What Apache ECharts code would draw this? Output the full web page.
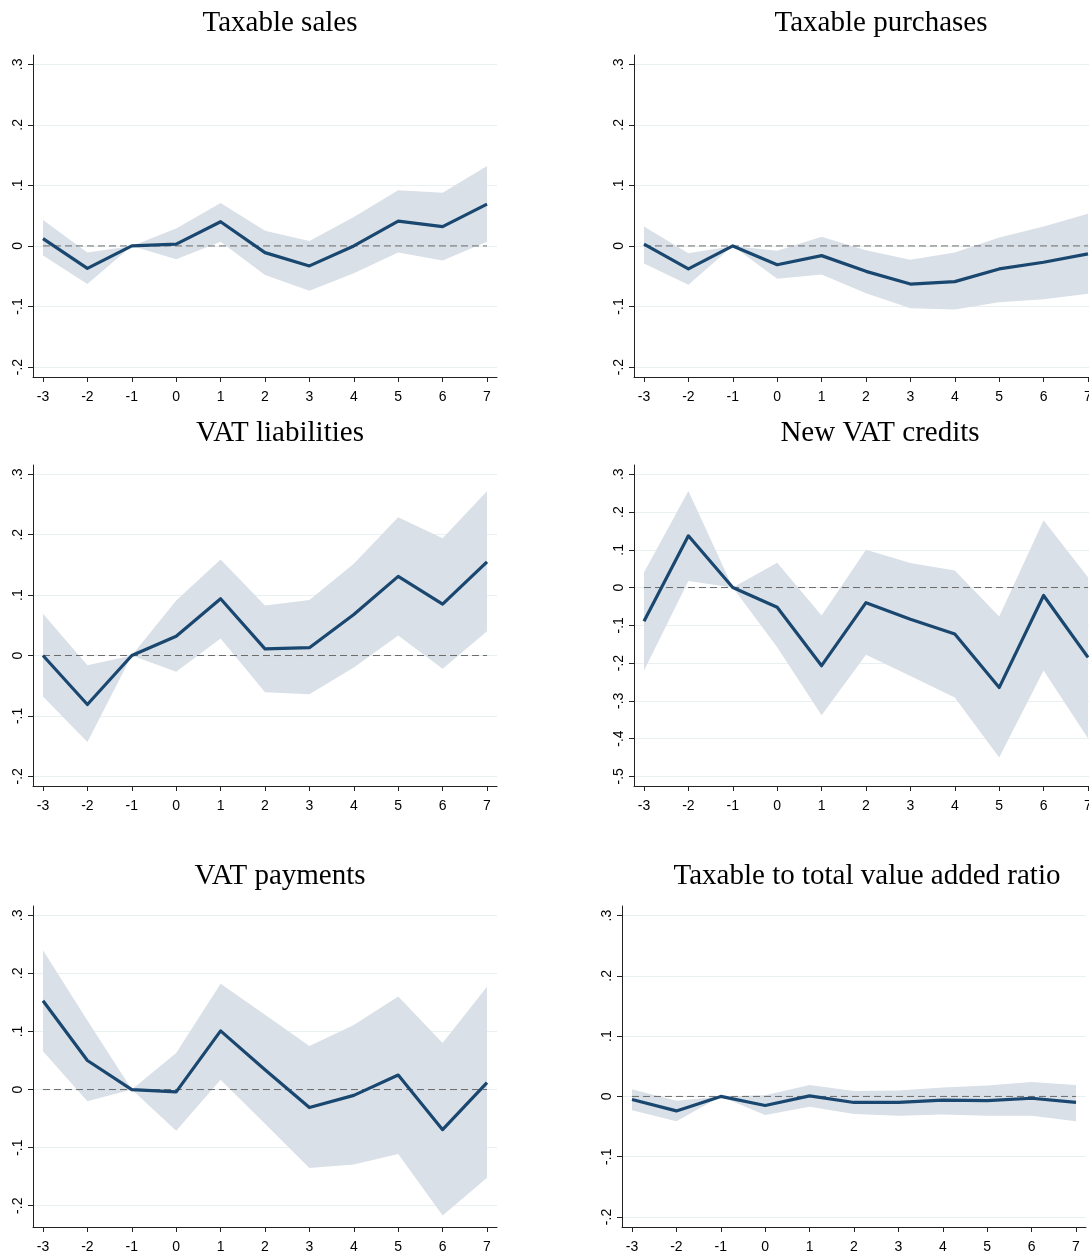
<!DOCTYPE html>
<html>
<head>
<meta charset="utf-8">
<script src="https://cdn.jsdelivr.net/npm/echarts@6/dist/echarts.min.js"></script>
<style>
html,body{margin:0;padding:0;background:#fff;}
#c{width:1089px;height:1253px;}
</style>
</head>
<body>
<div id="c"></div>
<script>
// ---------- data ----------
const periods = [-3, -2, -1, 0, 1, 2, 3, 4, 5, 6, 7];

const titles = ["Taxable sales", "Taxable purchases", "VAT liabilities", "New VAT credits", "VAT payments", "Taxable to total value added ratio"];

const salesCoef = [0.012, -0.037, 0, 0.003, 0.040, -0.011, -0.033, 0.000, 0.041, 0.032, 0.069];
const salesHi   = [0.043, -0.011, 0, 0.029, 0.071, 0.025, 0.008, 0.048, 0.092, 0.088, 0.132];
const salesLo   = [-0.016, -0.063, 0, -0.022, 0.007, -0.048, -0.074, -0.045, -0.011, -0.024, 0.007];

const purchCoef = [0.003, -0.038, 0, -0.031, -0.016, -0.042, -0.063, -0.059, -0.038, -0.027, -0.013];
const purchHi   = [0.032, -0.012, 0, -0.008, 0.015, -0.007, -0.023, -0.011, 0.014, 0.032, 0.053];
const purchLo   = [-0.029, -0.064, 0, -0.054, -0.047, -0.078, -0.103, -0.105, -0.093, -0.088, -0.079];

const liabCoef = [0, -0.081, 0, 0.032, 0.094, 0.011, 0.013, 0.068, 0.131, 0.085, 0.155];
const liabHi   = [0.069, -0.016, 0, 0.091, 0.159, 0.083, 0.092, 0.152, 0.229, 0.194, 0.272];
const liabLo   = [-0.068, -0.143, 0, -0.027, 0.028, -0.061, -0.064, -0.020, 0.033, -0.022, 0.040];

const credCoef = [-0.089, 0.137, 0, -0.052, -0.207, -0.040, -0.084, -0.123, -0.265, -0.021, -0.185];
const credHi   = [0.040, 0.256, 0, 0.066, -0.074, 0.100, 0.065, 0.045, -0.077, 0.178, 0.027];
const credLo   = [-0.220, 0.017, 0, -0.158, -0.338, -0.178, -0.234, -0.291, -0.450, -0.220, -0.399];

const payCoef = [0.153, 0.050, 0, -0.004, 0.101, 0.034, -0.031, -0.010, 0.025, -0.069, 0.012];
const payHi   = [0.240, 0.119, 0, 0.063, 0.182, 0.129, 0.075, 0.111, 0.160, 0.080, 0.177];
const payLo   = [0.066, -0.020, 0, -0.071, 0.017, -0.059, -0.135, -0.129, -0.111, -0.217, -0.152];

const ratioCoef = [-0.005, -0.024, 0, -0.015, 0.001, -0.010, -0.010, -0.006, -0.007, -0.003, -0.010];
const ratioHi   = [0.012, -0.007, 0, 0.002, 0.019, 0.009, 0.010, 0.015, 0.018, 0.024, 0.019];
const ratioLo   = [-0.023, -0.041, 0, -0.031, -0.017, -0.029, -0.032, -0.030, -0.032, -0.032, -0.041];

const yTicksStd = [-0.2, -0.1, 0, 0.1, 0.2, 0.3];
const yTicksCred = [-0.5, -0.4, -0.3, -0.2, -0.1, 0, 0.1, 0.2, 0.3];
const xTicks = [-3, -2, -1, 0, 1, 2, 3, 4, 5, 6, 7];

const panelData = [
  {coef: salesCoef, lo: salesLo, hi: salesHi, ticks: yTicksStd},
  {coef: purchCoef, lo: purchLo, hi: purchHi, ticks: yTicksStd},
  {coef: liabCoef, lo: liabLo, hi: liabHi, ticks: yTicksStd},
  {coef: credCoef, lo: credLo, hi: credHi, ticks: yTicksCred},
  {coef: payCoef, lo: payLo, hi: payHi, ticks: yTicksStd},
  {coef: ratioCoef, lo: ratioLo, hi: ratioHi, ticks: yTicksStd}
];

// ---------- layout ----------
const layout = [
  {left: 33,  top: 55,  width: 464, height: 322, xMax: 7.225, yMin: -0.2165, yMax: 0.3154, tx: 280, ty: 23},
  {left: 634, top: 55,  width: 455, height: 322, xMax: 7.023, yMin: -0.2165, yMax: 0.3154, tx: 881, ty: 23},
  {left: 33,  top: 465, width: 464, height: 321, xMax: 7.225, yMin: -0.2160, yMax: 0.3154, tx: 280, ty: 433},
  {left: 634, top: 465, width: 455, height: 321, xMax: 7.023, yMin: -0.5257, yMax: 0.3246, tx: 880, ty: 433},
  {left: 33,  top: 906, width: 464, height: 321, xMax: 7.225, yMin: -0.2366, yMax: 0.3160, tx: 280, ty: 876},
  {left: 622, top: 906, width: 464, height: 321, xMax: 7.225, yMin: -0.2166, yMax: 0.3159, tx: 867, ty: 876}
];
const xMin = -3.225;

const lineColor = '#1a476f';
const bandColor = '#dae0e8';
const gridColor = '#e8f0f1';
const axisColor = '#222';
const labelFont = 'Liberation Sans, Arial, sans-serif';

function fmtY(v) {
  if (Math.abs(v) < 1e-9) return '0';
  const s = (Math.round(v * 10) / 10).toFixed(1);
  return s.replace('0.', '.');
}

const grids = [], xAxes = [], yAxes = [], series = [], graphics = [];
layout.forEach((L, i) => {
  const D = panelData[i];
  grids.push({left: L.left, top: L.top, width: L.width, height: L.height, containLabel: false, outerBoundsMode: 'none'});
  xAxes.push({
    type: 'value', gridIndex: i, min: xMin, max: L.xMax,
    axisLine: {show: true, onZero: false, lineStyle: {color: axisColor, width: 1}},
    axisTick: {show: true, length: 5, customValues: xTicks, lineStyle: {color: axisColor}},
    axisLabel: {show: true, customValues: xTicks, color: '#000', fontSize: 14, fontFamily: labelFont, margin: 13,
      hideOverlap: false, formatter: v => String(Math.round(v))},
    splitLine: {show: false}
  });
  yAxes.push({
    type: 'value', gridIndex: i, min: L.yMin, max: L.yMax,
    axisLine: {show: true, onZero: false, lineStyle: {color: axisColor, width: 1}},
    axisTick: {show: true, length: 5, customValues: D.ticks, lineStyle: {color: axisColor}},
    axisLabel: {show: true, customValues: D.ticks, rotate: 90, color: '#000', fontSize: 14, fontFamily: labelFont, margin: 8,
      formatter: v => fmtY(v)},
    splitLine: {show: true, lineStyle: {color: gridColor, width: 1}}
  });
  const band = periods.map((p, j) => [p, D.lo[j], D.hi[j]]);
  series.push({
    type: 'custom', xAxisIndex: i, yAxisIndex: i, silent: true, z: 1,
    data: band,
    encode: {x: 0, y: [1, 2]},
    renderItem: function (params, api) {
      if (params.dataIndex !== 0) return;
      const pts = [];
      for (let j = 0; j < band.length; j++) pts.push(api.coord([band[j][0], band[j][2]]));
      for (let j = band.length - 1; j >= 0; j--) pts.push(api.coord([band[j][0], band[j][1]]));
      return {type: 'polygon', shape: {points: pts}, style: {fill: bandColor}};
    }
  });
  series.push({
    type: 'line', xAxisIndex: i, yAxisIndex: i, silent: true, z: 2,
    data: [[periods[0], 0], [periods[periods.length - 1], 0]],
    symbol: 'none',
    lineStyle: {color: '#6b6b6b', width: 1, type: [7, 4]}
  });
  series.push({
    type: 'line', xAxisIndex: i, yAxisIndex: i, silent: true, z: 3,
    data: periods.map((p, j) => [p, D.coef[j]]),
    symbol: 'none',
    lineStyle: {color: lineColor, width: 3.2, join: 'round'}
  });
  graphics.push({
    type: 'text', x: L.tx, y: L.ty,
    style: {text: titles[i], fill: '#000', font: '29px "Liberation Serif", "Times New Roman", serif', textAlign: 'center', textVerticalAlign: 'middle'}
  });
});

const chart = echarts.init(document.getElementById('c'), null, {renderer: 'canvas'});
chart.setOption({
  animation: false,
  backgroundColor: '#fff',
  grid: grids,
  xAxis: xAxes,
  yAxis: yAxes,
  series: series,
  graphic: graphics
});
</script>
</body>
</html>
